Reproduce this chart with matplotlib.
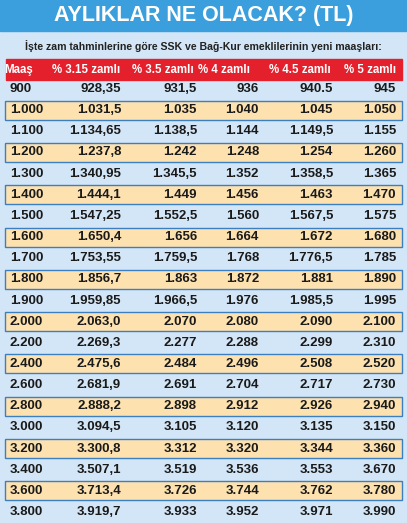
import matplotlib
matplotlib.use("Agg")
import matplotlib.pyplot as plt
from matplotlib.patches import Rectangle

title = "AYLIKLAR NE OLACAK? (TL)"
subtitle = "İşte zam tahminlerine göre SSK ve Bağ-Kur emeklilerinin yeni maaşları:"
headers = ["Maaş", "% 3.15 zamlı", "% 3.5 zamlı", "% 4 zamlı", "% 4.5 zamlı", "% 5 zamlı"]
maas = ["900","1.000","1.100","1.200","1.300","1.400","1.500","1.600","1.700","1.800","1.900","2.000",
        "2.200","2.400","2.600","2.800","3.000","3.200","3.400","3.600","3.800"]
z315 = ["928,35","1.031,5","1.134,65","1.237,8","1.340,95","1.444,1","1.547,25","1.650,4","1.753,55","1.856,7",
        "1.959,85","2.063,0","2.269,3","2.475,6","2.681,9","2.888,2","3.094,5","3.300,8","3.507,1","3.713,4","3.919,7"]
z35 = ["931,5","1.035","1.138,5","1.242","1.345,5","1.449","1.552,5","1.656","1.759,5","1.863","1.966,5","2.070",
       "2.277","2.484","2.691","2.898","3.105","3.312","3.519","3.726","3.933"]
z4 = ["936","1.040","1.144","1.248","1.352","1.456","1.560","1.664","1.768","1.872","1.976","2.080",
      "2.288","2.496","2.704","2.912","3.120","3.320","3.536","3.744","3.952"]
z45 = ["940.5","1.045","1.149,5","1.254","1.358,5","1.463","1.567,5","1.672","1.776,5","1.881","1.985,5","2.090",
       "2.299","2.508","2.717","2.926","3.135","3.344","3.553","3.762","3.971"]
z5 = ["945","1.050","1.155","1.260","1.365","1.470","1.575","1.680","1.785","1.890","1.995","2.100",
      "2.310","2.520","2.730","2.940","3.150","3.360","3.670","3.780","3.990"]

W, H = 407, 523
fig = plt.figure(figsize=(W/100, H/100), dpi=100)
ax = fig.add_axes([0, 0, 1, 1])
ax.set_xlim(0, W); ax.set_ylim(H, 0); ax.axis("off")

font = dict(family="Liberation Sans", weight="bold")
ax.add_patch(Rectangle((0, 0), W, H, color="#d3e6f7"))
ax.add_patch(Rectangle((0, 0), W, 31, color="#3a9fdc"))
ax.text(W/2, 16, title, ha="center", va="center", color="white", fontsize=15.5, **font)
ax.text(W/2, 46, subtitle, ha="center", va="center", color="#222", fontsize=7.6, **font)
ax.add_patch(Rectangle((6, 59), 396, 21, color="#e3202b"))
hx = [19, 86, 163, 224, 300, 370]
for x, h in zip(hx, headers):
    ax.text(x, 70, h, ha="center", va="center", color="white", fontsize=8.3, **font)

cols = [z315, z35, z4, z45, z5]
rx = [121, 197, 259, 333, 396]
y0, dy = 89, 21.15
for i, m in enumerate(maas):
    y = y0 + i*dy
    if i % 2 == 1:
        ax.add_patch(Rectangle((5, y-9.5), 397, 19, facecolor="#fde2b0", edgecolor="#3c7fc0", lw=1))
    ax.text(10, y, m, ha="left", va="center", color="#1a1a1a", fontsize=9.5, **font)
    for x, c in zip(rx, cols):
        ax.text(x, y, c[i], ha="right", va="center", color="#1a1a1a", fontsize=9.5, **font)

fig.savefig("out.png", dpi=100)
